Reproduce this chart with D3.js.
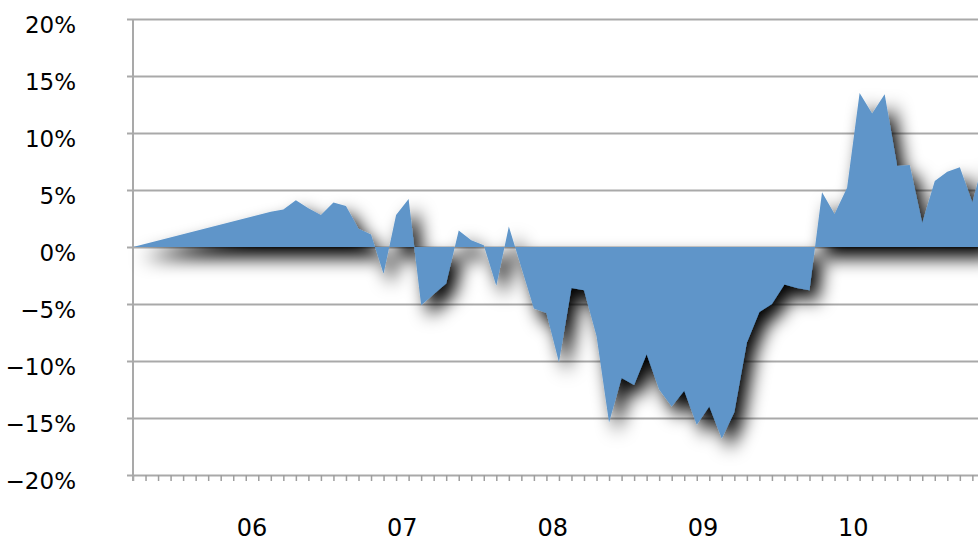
<!DOCTYPE html>
<html>
<head>
<meta charset="utf-8">
<script src="https://cdn.jsdelivr.net/npm/d3@7/dist/d3.min.js"></script>
<style>
  html, body { margin: 0; padding: 0; background: #ffffff; overflow: hidden; }
  svg { display: block; }
  text { font-family: "DejaVu Sans", "Lucida Grande", sans-serif; fill: #000; }
</style>
</head>
<body>
<svg id="chart" width="978" height="541"></svg>
<script>
// Monthly return series (percent); months given as YYYY-MM
const months = [
  "2005-09", "2006-08", "2006-09", "2006-10", "2006-11", "2006-12",
  "2007-01", "2007-02", "2007-03", "2007-04", "2007-05", "2007-06",
  "2007-07", "2007-08", "2007-09", "2007-10", "2007-11", "2007-12",
  "2008-01", "2008-02", "2008-03", "2008-04", "2008-05", "2008-06",
  "2008-07", "2008-08", "2008-09", "2008-10", "2008-11", "2008-12",
  "2009-01", "2009-02", "2009-03", "2009-04", "2009-05", "2009-06",
  "2009-07", "2009-08", "2009-09", "2009-10", "2009-11", "2009-12",
  "2010-01", "2010-02", "2010-03", "2010-04", "2010-05", "2010-06",
  "2010-07", "2010-08", "2010-09", "2010-10", "2010-11", "2010-12",
  "2011-01", "2011-02", "2011-03", "2011-04", "2011-05"
];
const values = [
  0.0, 3.1, 3.3, 4.1, 3.4, 2.8,
  3.9, 3.6, 1.6, 1.1, -2.35, 2.8,
  4.2, -5.1, -4.15, -3.2, 1.45, 0.6,
  0.15, -3.4, 1.8, -1.8, -5.4, -5.8,
  -10.1, -3.6, -3.8, -7.8, -15.4, -11.5,
  -12.1, -9.4, -12.5, -14.0, -12.6, -15.6,
  -14.0, -16.8, -14.5, -8.4, -5.7, -5.0,
  -3.3, -3.6, -3.8, 4.8, 2.9, 5.2,
  13.5, 11.7, 13.4, 7.1, 7.2, 2.1,
  5.8, 6.6, 7.0, 3.9, 8.0
];
const yTicks = [-20, -15, -10, -5, 0, 5, 10, 15, 20];
const yearLabels = ["06", "07", "08", "09", "10"];

// Month index counted from the first month of the series
const [startYear, startMonth] = months[0].split("-").map(Number);
const monthIndex = s => {
  const [yr, mo] = s.split("-").map(Number);
  return (yr - startYear) * 12 + (mo - startMonth);
};
const data = months.map((m, i) => ({ t: monthIndex(m), v: values[i] }));

const svg = d3.select("#chart");
const plotLeft = 133, plotTop = 19, plotBottom = 475, plotRight = 978;
const lastIndex = 67.45; // month position at the right edge of the window

const x = d3.scaleLinear().domain([0, lastIndex]).range([plotLeft, plotRight]);
const y = d3.scaleLinear().domain([-20, 20]).range([plotBottom, plotTop]);

const gridColor = "#a9a9a9";

// Soft drop shadow for the area
const defs = svg.append("defs");
const f = defs.append("filter").attr("id", "shadow")
  .attr("filterUnits", "userSpaceOnUse")
  .attr("x", 0).attr("y", 0).attr("width", 1100).attr("height", 541);
f.append("feGaussianBlur").attr("in", "SourceAlpha").attr("stdDeviation", 9).attr("result", "blur");
f.append("feOffset").attr("in", "blur").attr("dx", 8).attr("dy", 11).attr("result", "off");
f.append("feComponentTransfer").attr("in", "off").attr("result", "shade")
  .append("feFuncA").attr("type", "linear").attr("slope", 1.0);
const merge = f.append("feMerge");
merge.append("feMergeNode").attr("in", "shade");
merge.append("feMergeNode").attr("in", "SourceGraphic");

// Horizontal gridlines + y labels
const yAxis = d3.axisLeft(y)
  .tickValues(yTicks)
  .tickSize(0)
  .tickFormat(d => (d < 0 ? "\u2212" : "") + Math.abs(d) + "%");
const gy = svg.append("g").attr("transform", `translate(${plotLeft},0)`).call(yAxis);
gy.select(".domain").remove();
gy.selectAll(".tick line")
  .attr("x1", -6)
  .attr("x2", plotRight - plotLeft + 10)
  .attr("stroke", gridColor).attr("stroke-width", 2);
gy.selectAll(".tick text")
  .attr("font-size", 23)
  .attr("x", 76 - plotLeft)
  .attr("dy", "0.57em")
  .attr("text-anchor", "end");

// Monthly minor ticks on the x axis
const monthTicks = d3.range(0, Math.floor(lastIndex) + 1);
const xAxis = d3.axisBottom(x)
  .tickValues(monthTicks)
  .tickSize(6)
  .tickFormat("");
const gx = svg.append("g").attr("transform", `translate(0,${plotBottom})`).call(xAxis);
gx.select(".domain").remove();
gx.selectAll(".tick line").attr("stroke", "#9e9e9e").attr("stroke-width", 1.5);

// Vertical axis line
svg.append("line")
  .attr("x1", plotLeft).attr("x2", plotLeft)
  .attr("y1", plotTop).attr("y2", plotBottom + 6)
  .attr("stroke", gridColor).attr("stroke-width", 2);

// Year labels centred under January-December of each year
svg.append("g").selectAll("text")
  .data(yearLabels)
  .join("text")
  .attr("x", d => x(monthIndex("20" + d + "-01") + 5.5))
  .attr("y", 536)
  .attr("text-anchor", "middle")
  .attr("font-size", 24)
  .text(d => d);

// Area between the series and zero
const area = d3.area()
  .x(d => x(d.t))
  .y0(y(0))
  .y1(d => y(d.v));

svg.append("path")
  .datum(data)
  .attr("d", area)
  .attr("fill", "#5e95c9")
  .attr("filter", "url(#shadow)");
</script>
</body>
</html>
